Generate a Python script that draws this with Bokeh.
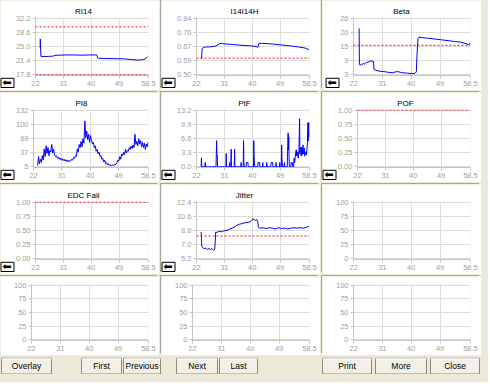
from bokeh.plotting import figure
from bokeh.models import Range1d, FixedTicker, Span, ColumnDataSource, Title
from bokeh.layouts import row, column
from bokeh.embed import file_html
from bokeh.resources import INLINE
from bokeh.core.properties import value

# ---------------- data ----------------
x_ticks = [22, 31, 40, 49, 58.5]
x_tick_labels = ["22", "31", "40", "49", "58.5"]

titles = ["RI14", "I14I14H", "Beta", "PI8", "PtF", "POF", "EDC Fail", "Jitter"]

ri14_yticks = ["17.8", "21.4", "25.0", "28.6", "32.2"]
i14_yticks = ["0.50", "0.59", "0.67", "0.76", "0.84"]
beta_yticks = ["3", "9", "15", "20", "26"]
pi8_yticks = ["5", "37", "69", "100", "132"]
ptf_yticks = ["0.0", "3.3", "6.6", "9.9", "13.2"]
pof_yticks = ["0.00", "0.25", "0.50", "0.75", "1.00"]
edc_yticks = ["0.00", "0.25", "0.50", "0.75", "1.00"]
jit_yticks = ["5.2", "7.0", "8.8", "10.6", "12.4"]
empty_yticks = ["0", "25", "50", "75", "100"]

ri14_limits = [30.0, 17.8]
i14_limits = [0.60]
beta_limits = [15.0]
pi8_limits = []
ptf_limits = []
pof_limits = [1.0]
edc_limits = [1.0]
jit_limits = [8.1]

ri14_x = [23.5, 23.55, 23.6, 23.75, 25.0, 26.5, 27.7, 28.2, 30.0, 32.0, 34.5, 37.0, 39.5, 41.8,
          42.1, 42.4, 45.0, 48.0, 50.7, 52.8, 54.8, 56.4, 57.4, 58.2]
ri14_y = [24.6, 26.9, 25.4, 22.5, 22.45, 22.5, 22.55, 22.75, 22.8, 22.85, 22.85, 22.8, 22.85, 22.85,
          22.1, 22.0, 21.95, 21.9, 21.85, 21.7, 21.55, 21.6, 21.85, 22.4]

i14_x = [23.6, 23.65, 23.8, 24.2, 25.0, 26.5, 28.0, 29.0, 29.6, 30.5, 32.0, 34.0, 36.0, 38.0, 40.0,
         41.5, 41.7, 42.0, 42.2, 43.0, 45.0, 47.0, 49.0, 51.0, 53.0, 55.0, 56.5, 57.5, 58.3]
i14_y = [0.595, 0.600, 0.655, 0.665, 0.667, 0.668, 0.672, 0.680, 0.688, 0.687, 0.684, 0.682, 0.678,
         0.676, 0.673, 0.670, 0.663, 0.672, 0.690, 0.689, 0.687, 0.684, 0.680, 0.676, 0.672, 0.667,
         0.663, 0.658, 0.652]

beta_x = [23.75, 23.85, 24.5, 25.0, 25.5, 26.0, 26.9, 27.5, 28.2, 28.4, 29.0, 30.0, 31.5, 33.0,
          34.3, 35.0, 35.8, 37.0, 38.5, 40.0, 41.2, 41.6, 41.8, 42.1, 42.4, 43.5, 45.5, 47.5, 49.5,
          51.5, 53.5, 55.3, 56.5, 57.5, 58.0, 58.4]
beta_y = [21.9, 7.2, 7.0, 7.6, 7.3, 8.0, 8.3, 8.6, 8.5, 5.2, 4.8, 4.5, 4.3, 4.0, 3.8, 4.2, 4.3, 3.9,
          3.7, 3.5, 3.6, 4.2, 10.6, 17.6, 18.3, 18.1, 17.8, 17.5, 17.2, 16.9, 16.5, 16.3, 15.9, 15.5,
          15.1, 16.0]

pi8_x = [23.3, 23.6, 23.9, 24.2, 24.5, 24.8, 25.1, 25.4, 25.7, 26.0,
         26.3, 26.6, 26.9, 27.2, 27.5, 27.8, 28.1, 28.4, 28.7, 29.0,
         29.3, 29.6, 29.9, 30.2, 30.5, 30.8, 31.1, 31.4, 31.7, 32.0,
         32.3, 32.6, 32.9, 33.2, 33.5, 33.8, 34.1, 34.4, 34.7, 35.0,
         35.3, 35.6, 35.9, 36.2, 36.5, 36.8, 37.1, 37.4, 37.7, 38.0,
         38.3, 38.6, 38.9, 39.2, 39.5, 39.8, 40.1, 40.4, 40.7, 41.0,
         41.3, 41.6, 41.9, 42.2, 42.5, 42.8, 43.1, 43.4, 43.7, 44.0,
         44.3, 44.6, 44.9, 45.2, 45.5, 45.8, 46.1, 46.4, 46.7, 47.0,
         47.3, 47.6, 47.9, 48.2, 48.5, 48.8, 49.1, 49.4, 49.7, 50.0,
         50.3, 50.6, 50.9, 51.2, 51.5, 51.8, 52.1, 52.4, 52.7, 53.0,
         53.3, 53.6, 53.9, 54.2, 54.5, 54.8, 55.1, 55.4, 55.7, 56.0,
         56.3, 56.6, 56.9, 57.2, 57.5, 57.8, 58.1, 58.4]
pi8_y = [8, 28, 12, 22, 15, 30, 20, 45, 28, 52,
         35, 48, 30, 42, 38, 55, 36, 44, 32, 28,
         30, 24, 27, 22, 25, 20, 23, 19, 22, 18,
         21, 17, 20, 16, 19, 18, 22, 20, 26, 24,
         30, 28, 45, 38, 55, 48, 62, 50, 68, 58,
         108, 70, 85, 66, 78, 60, 75, 64, 56, 60,
         48, 52, 40, 44, 34, 38, 28, 30, 22, 24,
         16, 20, 12, 14, 9, 12, 8, 10, 7, 9,
         8, 10, 9, 12, 14, 20, 18, 28, 22, 34,
         30, 38, 32, 44, 36, 42, 40, 48, 44, 52,
         46, 54, 48, 78, 55, 62, 52, 68, 56, 64,
         50, 60, 48, 58, 44, 56, 50, 60]

ptf_x = [23.5, 23.6, 23.7, 24.7, 24.8, 24.9,
         28.3, 28.4, 28.5, 28.6, 28.7, 28.8,
         31.5, 31.6, 31.7, 32.6, 32.7, 32.8,
         33.1, 33.2, 33.3, 34.2, 34.3, 34.4,
         36.3, 36.4, 36.5, 37.1, 37.2, 37.3, 37.4,
         38.0, 38.1, 38.6, 38.7,
         40.4, 40.5, 40.6, 40.7, 40.8,
         41.8, 41.9, 42.4, 42.5,
         43.3, 43.4, 43.5, 44.6, 44.7, 44.8,
         46.0, 46.1, 46.6, 46.7, 47.6, 47.7, 47.8,
         48.8, 48.9, 49.0, 49.4, 49.5, 49.6, 49.7, 49.8,
         50.3, 50.4, 50.5, 51.3, 51.4, 51.6, 51.7, 51.8, 51.9, 52.0,
         52.5, 52.6, 53.0, 53.1, 53.4, 53.5, 53.7,
         54.0, 54.2, 54.4, 54.6, 54.9, 55.1, 55.3, 55.4, 55.6, 55.8,
         56.0, 56.2, 56.4, 56.6, 56.8, 57.0, 57.2, 57.5, 57.8, 58.0,
         58.1, 58.3, 58.4]
ptf_y = [0, 2.1, 0, 0, 1.0, 0,
         0, 3.0, 6.1, 3.0, 2.8, 0,
         0, 3.1, 0, 0, 1.0, 0,
         0, 4.1, 0, 0, 4.1, 0,
         0, 1.0, 0, 0, 6.1, 1.0, 0,
         0, 1.0, 1.0, 0,
         0, 6.1, 2.8, 1.0, 0,
         0, 1.0, 1.0, 0,
         0, 1.0, 0, 0, 1.0, 0,
         0, 1.0, 1.0, 0, 0, 1.0, 0,
         0, 1.0, 0, 0, 5.1, 2.0, 1.0, 0,
         0, 1.0, 0, 0, 3.0, 7.9, 4.0, 7.0, 2.0, 0,
         0, 1.0, 1.0, 0, 0, 2.0, 1.0,
         3.0, 4.0, 2.5, 3.5, 2.0, 4.0, 11.2, 3.0, 4.5, 2.5,
         4.6, 2.8, 5.1, 3.0, 4.4, 2.5, 3.5, 2.8, 5.0, 10.3,
         6.0, 10.3, 7.0]

jit_x = [23.5, 23.6, 23.7, 24.0, 24.5, 25.0, 25.5, 26.0, 26.5, 27.0, 27.5, 27.9,
         28.2, 28.6, 29.2, 30.0, 30.8, 31.5, 32.2, 32.8, 33.5, 34.3, 35.0, 35.8, 36.5, 37.3,
         38.0, 38.7, 39.3, 39.8, 40.2, 40.6, 41.0, 41.5, 41.8,
         42.0, 42.5, 43.5, 44.5, 45.5, 46.5, 47.5, 48.5, 49.5, 50.5, 51.5, 52.5, 53.5, 54.5,
         55.5, 56.5, 57.5, 58.3]
jit_y = [8.6, 7.8, 6.8, 6.6, 6.5, 6.55, 6.4, 6.5, 6.4, 6.5, 6.3, 6.4,
         8.6, 8.55, 8.7, 8.65, 8.75, 8.8, 8.85, 9.0, 9.1, 9.25, 9.45, 9.6, 9.65, 9.75,
         9.8, 9.85, 9.9, 10.05, 10.3, 10.15, 10.1, 10.2, 9.9,
         9.2, 9.1, 9.15, 9.05, 9.15, 9.1, 9.0, 9.15, 9.05, 9.1, 9.0, 9.1, 9.15, 9.1,
         9.15, 9.1, 9.2, 9.35]

button_labels = ["Overlay", "First", "Previous", "Next", "Last", "Print", "More", "Close"]

# ---------------- style / layout ----------------
BEIGE = "#ECE9D8"
PW = 158
FONT = "Liberation Sans"
TITLE_PX = 8

# approximate Arial/Liberation Sans advance widths (em) used to centre titles on the panel
_EM = {"R": .722, "I": .278, "1": .556, "4": .556, "H": .722, "B": .667, "e": .556, "t": .278,
       "a": .556, "P": .667, "8": .556, "F": .611, "O": .778, "E": .667, "D": .722, "C": .722,
       " ": .278, "i": .222, "l": .222, "J": .5, "r": .333}


def text_w(s):
    return sum(_EM.get(c, .556) for c in s) * TITLE_PX


def make_panel(title, ylabels, xs, ys, limits, last_row=False, arrow=True):
    H = 78 if last_row else 89
    top = 8 if last_row else 17
    bottom = 14
    left, right = 31, 10
    lo, hi = float(ylabels[0]), float(ylabels[-1])
    yt = [lo + (hi - lo) * i / 4 for i in range(4)] + [hi]
    pad = (hi - lo) * 0.012
    p = figure(width=PW, height=H, x_range=Range1d(22, 58.5), y_range=Range1d(lo - pad, hi + pad),
               output_backend="svg", toolbar_location=None, tools="",
               min_border_left=left, min_border_right=right,
               min_border_top=top, min_border_bottom=bottom)
    p.border_fill_color = "white"
    p.background_fill_color = "white"
    p.outline_line_color = None
    p.styles = {"box-shadow": "-1px -1px 0 0 #a8a698, 1px 1px 0 0 #ffffff"}
    if title:
        p.title.text = title
        p.title.align = "left"
        p.title.offset = PW / 2 - text_w(title) / 2 - left
        p.title.standoff = 4
        p.title.text_font = FONT
        p.title.text_font_size = "%dpx" % TITLE_PX
        p.title.text_font_style = "normal"
        p.title.text_color = "black"
    p.xaxis.ticker = FixedTicker(ticks=x_ticks)
    p.xaxis.major_label_overrides = dict(zip(x_ticks, x_tick_labels))
    p.yaxis.ticker = FixedTicker(ticks=yt)
    p.yaxis.major_label_overrides = dict(zip(yt, ylabels))
    for ax in (p.xaxis[0], p.yaxis[0]):
        ax.axis_line_color = "#c4c4c4"
        ax.major_tick_line_color = "#c4c4c4"
        ax.major_tick_out = 3
        ax.major_tick_in = 0
        ax.minor_tick_line_color = None
        ax.major_label_text_color = "#a0a0a0"
        ax.major_label_text_font = FONT
        ax.major_label_text_font_size = "7.5px"
        ax.major_label_standoff = 2
    p.grid.grid_line_color = "#dcdcdc"
    for lim in limits:
        p.add_layout(Span(location=lim, dimension="width", line_color="#e8141e",
                          line_dash="2 2", line_width=1))
    if xs:
        p.line(xs, ys, line_color="#0000ff", line_width=1)
    if arrow:
        # back-arrow icon at the lower-left corner (rotated title on the left side)
        p.add_layout(Title(text="\u2b06", align="left", offset=-12, standoff=-3,
                           vertical_align="bottom", text_font="DejaVu Sans",
                           text_font_size="11px", text_font_style="normal", text_color="black",
                           background_fill_color="white", border_line_color="black"), "left")
    return p


panels = [
    make_panel(titles[0], ri14_yticks, ri14_x, ri14_y, ri14_limits),
    make_panel(titles[1], i14_yticks, i14_x, i14_y, i14_limits),
    make_panel(titles[2], beta_yticks, beta_x, beta_y, beta_limits),
    make_panel(titles[3], pi8_yticks, pi8_x, pi8_y, pi8_limits),
    make_panel(titles[4], ptf_yticks, ptf_x, ptf_y, ptf_limits),
    make_panel(titles[5], pof_yticks, None, None, pof_limits),
    make_panel(titles[6], edc_yticks, None, None, edc_limits),
    make_panel(titles[7], jit_yticks, jit_x, jit_y, jit_limits),
    make_panel("", empty_yticks, None, None, [], arrow=False),
    make_panel("", empty_yticks, None, None, [], last_row=True, arrow=False),
    make_panel("", empty_yticks, None, None, [], last_row=True, arrow=False),
    make_panel("", empty_yticks, None, None, [], last_row=True, arrow=False),
]

# buttons strip
TOTAL_W = 3 * PW + 2 * 3
BH = 17
btn_left = [1, 81, 123, 176, 219, 322, 375, 430]
btn_right = [51, 121, 160, 217, 257, 371, 426, 479]
bsrc = ColumnDataSource(dict(
    left=btn_left, right=btn_right,
    cx=[(a + b) / 2 for a, b in zip(btn_left, btn_right)],
    cy=[BH / 2] * len(btn_left),
    label=button_labels,
))
bp = figure(width=TOTAL_W, height=BH, x_range=Range1d(0, TOTAL_W), y_range=Range1d(0, BH),
            output_backend="svg", toolbar_location=None, tools="",
            x_axis_type=None, y_axis_type=None, min_border=0)
bp.background_fill_color = BEIGE
bp.border_fill_color = BEIGE
bp.outline_line_color = None
bp.grid.visible = False
bp.quad(left="left", right="right", bottom=0.5, top=BH - 0.5, source=bsrc,
        fill_color="#F2F0E6", line_color="#8e8b7d", line_width=1)
bp.segment(x0="left", y0=BH - 1.5, x1="right", y1=BH - 1.5, source=bsrc,
           line_color="white", line_width=1)
bp.text(x="cx", y="cy", text="label", source=bsrc, text_align="center",
        text_baseline="middle", text_font=value(FONT), text_font_size="8.5px",
        text_color="black")

rows = [row(panels[i:i + 3], spacing=3) for i in range(0, 12, 3)]
root = column(rows + [bp], spacing=3,
              styles={"background-color": BEIGE, "box-shadow": "0 0 0 8px " + BEIGE})

open("out.html", "w").write(file_html(root, INLINE))
